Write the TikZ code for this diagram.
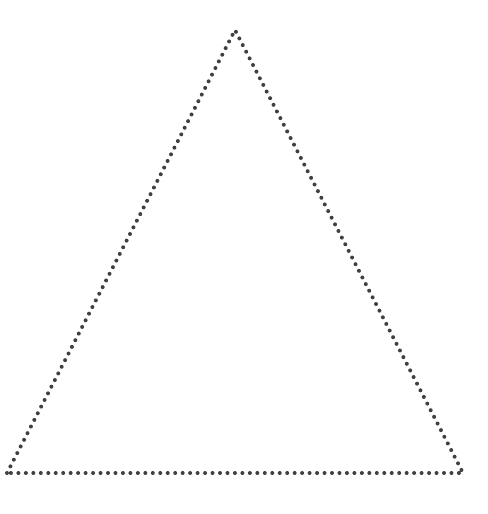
\documentclass[tikz,border=0pt]{standalone}
\usepackage{tikz}
\usetikzlibrary{positioning}

\begin{document}
\begin{tikzpicture}[
x=0.75pt,y=-0.75pt,
dotline/.style={draw=black!75,line width=3pt,line cap=round,dash pattern=on 0pt off 5.6pt}
]

\useasboundingbox (0,0) rectangle (488,514);

\coordinate (top) at (235,30);
\coordinate (bl) at (7,473);
\coordinate (br) at (463,473);

\draw[dotline] (bl) -- (top) -- (br) -- cycle;

\end{tikzpicture}
\end{document}
